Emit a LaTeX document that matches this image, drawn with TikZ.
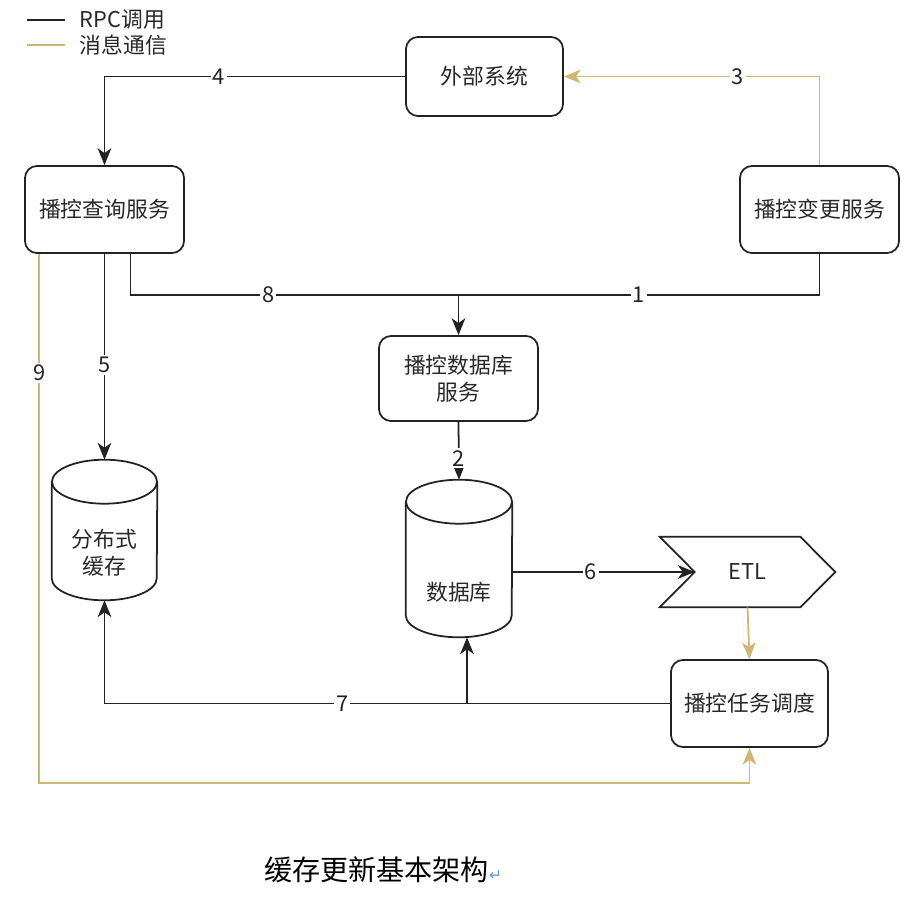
\documentclass[tikz,border=0pt]{standalone}
\usepackage{fontspec}
\setmainfont{Noto Sans CJK SC}
\newfontfamily\symfont{DejaVu Sans}
\usepackage{xcolor}
\usetikzlibrary{arrows.meta, positioning, calc}
\definecolor{LineDark}{RGB}{34,34,34}
\definecolor{MsgGold}{RGB}{208,182,112}
\definecolor{TextGray}{RGB}{40,40,40}
\definecolor{MarkBlue}{RGB}{91,155,213}

\begin{document}
\begin{tikzpicture}[x=0.025cm, y=-0.025cm, font=\fontsize{15.5pt}{19pt}\selectfont, text=TextGray,
	box/.style={rectangle, rounded corners=0.3cm, draw=LineDark, line width=1.25pt, fill=white, align=center, inner sep=2pt},
	can/.style={rectangle, inner sep=0pt},
	ln/.style={line width=1.25pt, draw=LineDark},
	msg/.style={line width=1.25pt, draw=MsgGold},
	tip/.style={-{Stealth[length=0.42cm, width=0.34cm, inset=0.12cm]}},
	num/.style={fill=white, inner sep=1.5pt, text=LineDark}]
	\useasboundingbox (0,0) rectangle (910,900);

	% legend
	\node[anchor=west] (lgrpc) at (75,20) {RPC调用};
	\node[anchor=west] (lgmsg) at (75,45) {消息通信};
	\draw[ln] ([xshift=-0.25cm]lgrpc.west) -- ++(-38,0);
	\draw[msg] ([xshift=-0.25cm]lgmsg.west) -- ++(-38,0);

	% boxes
	\node[box, minimum width=3.925cm, minimum height=1.975cm] (ext) at (484.5,76.5) {外部系统};
	\node[box, minimum width=3.975cm, minimum height=2.175cm] (qry) at (104.5,209.5) {播控查询服务};
	\node[box, minimum width=3.975cm, minimum height=2.175cm] (chg) at (819.5,209.5) {播控变更服务};
	\node[box, minimum width=3.975cm, minimum height=2.125cm] (dbs) at (458.5,378.5) {播控数据库\\服务};
	\node[box, minimum width=3.925cm, minimum height=2.175cm] (task) at (749.5,703.5) {播控任务调度};

	% cylinders
	\node[can, minimum width=2.625cm, minimum height=3.5cm] (cache) at (104.5,530) {};
	\draw[ln] ([yshift=-0.55cm]cache.north west) -- ([yshift=0.55cm]cache.south west)
		arc[start angle=180, end angle=360, x radius=1.3125cm, y radius=0.55cm] -- ([yshift=-0.55cm]cache.north east);
	\draw[ln] ([yshift=-0.55cm]cache.north) ellipse[x radius=1.3125cm, y radius=0.55cm];
	\node[align=center] (cachetxt) at ($(cache.center)+(0,23)$) {分布式\\缓存};

	\node[can, minimum width=2.65cm, minimum height=3.925cm] (db) at (459,558.5) {};
	\draw[ln] ([yshift=-0.55cm]db.north west) -- ([yshift=0.55cm]db.south west)
		arc[start angle=180, end angle=360, x radius=1.325cm, y radius=0.55cm] -- ([yshift=-0.55cm]db.north east);
	\draw[ln] ([yshift=-0.55cm]db.north) ellipse[x radius=1.325cm, y radius=0.55cm];
	\node (dbtxt) at ($(db.center)+(0,34)$) {数据库};

	% ETL
	\node[can, minimum width=4.375cm, minimum height=1.75cm] (etl) at (747.5,572) {ETL};
	\draw[ln] (etl.north west) -- ([xshift=-0.875cm]etl.north east) -- (etl.east)
		-- ([xshift=-0.875cm]etl.south east) -- (etl.south west) -- ([xshift=0.875cm]etl.west) -- cycle;
	\coordinate (etlin) at ([xshift=0.875cm]etl.west);

	% connectors
	\coordinate (j) at (dbs.north |- 0,295);
	\draw[ln, tip] (ext.west) -| node[num, pos=0.31] {4} (qry.north);
	\draw[msg, tip] (chg.north) |- node[num, pos=0.66] {3} (ext.east);
	\draw[ln, tip] ($(qry.south)+(26,0)$) |- node[num, pos=0.71] {8} (j) -- (dbs.north);
	\draw[ln] (chg.south) |- node[num, pos=0.75] {1} (j);
	\draw[ln, tip] (qry.south) -- node[num, pos=0.54] {5} (cache.north);
	\draw[msg, tip] ($(qry.south west)+(15,0)$) -- node[num, pos=0.225] {9} ++(0,529) -| (task.south);
	\draw[ln, tip] (dbs.south) -- node[num, pos=0.63] {2} (db.north);
	\draw[ln, tip] (db.east |- etl.west) -- node[num, pos=0.43] {6} (etlin);
	\draw[msg, tip] (etl.south) -- (task.north);
	\draw[ln, tip] (task.west) -| node[num, pos=0.29] {7} (cache.south);
	\coordinate (k) at ($(db.south |- task.west)+(8,0)$);
	\draw[ln, tip] (k) -- (k |- db.south);

	% caption
	\node[text=black] (title) at (383,870) {\fontsize{20pt}{24pt}\selectfont 缓存更新基本架构\textcolor{MarkBlue}{\symfont\fontsize{11pt}{11pt}\selectfont ↵}};
\end{tikzpicture}
\end{document}
